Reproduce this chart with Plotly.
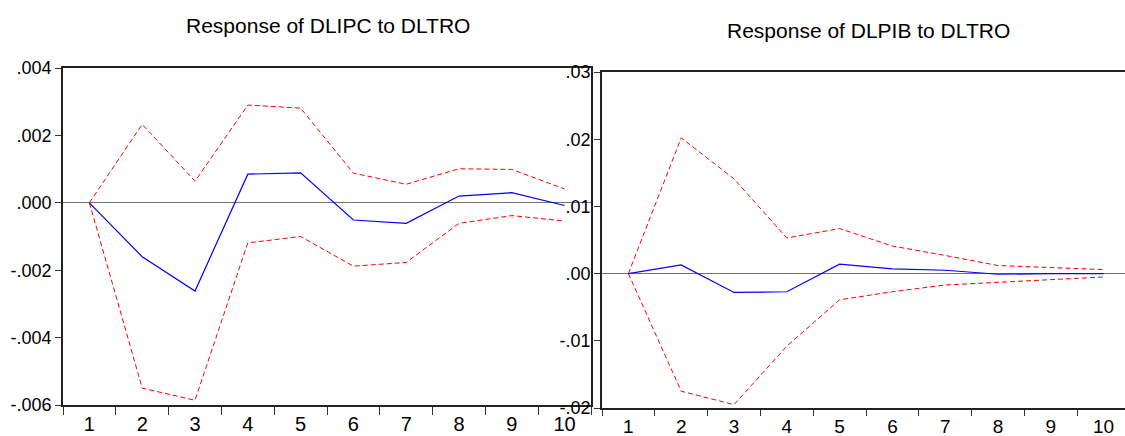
import plotly.graph_objects as go

W, H = 1125, 436

periods = ["1", "2", "3", "4", "5", "6", "7", "8", "9", "10"]

# Response of DLIPC to DLTRO
ipc_resp = [0.0, -0.00160, -0.00262, 0.00085, 0.00089, -0.00051, -0.00061, 0.00020, 0.00030, -0.00008]
ipc_upper = [0.0, 0.00233, 0.00064, 0.00290, 0.00281, 0.00088, 0.00055, 0.00101, 0.00099, 0.00041]
ipc_lower = [0.0, -0.00550, -0.00586, -0.00119, -0.00100, -0.00188, -0.00177, -0.00061, -0.00038, -0.00054]

# Response of DLPIB to DLTRO
pib_resp = [0.0, 0.0013, -0.0028, -0.0027, 0.0014, 0.0007, 0.0005, -0.0001, 0.0, 0.0]
pib_upper = [0.0, 0.0202, 0.0141, 0.0053, 0.0067, 0.0041, 0.0027, 0.0012, 0.0009, 0.0006]
pib_lower = [0.0, -0.0175, -0.0195, -0.0108, -0.0039, -0.0027, -0.0017, -0.0013, -0.0008, -0.0005]

ipc_tickvals = [0.004, 0.002, 0.0, -0.002, -0.004, -0.006]
ipc_ticktext = [".004", ".002", ".000", "-.002", "-.004", "-.006"]
pib_tickvals = [0.03, 0.02, 0.01, 0.0, -0.01, -0.02]
pib_ticktext = [".03", ".02", ".01", ".00", "-.01", "-.02"]

titles = ["Response of DLIPC to DLTRO", "Response of DLPIB to DLTRO"]

FONT = "Liberation Sans, Arial, sans-serif"
BLUE = "#0000FF"
RED = "#FF0000"
DASH = "5px,3px"
INK = "#000000"

fig = go.Figure()

def add_panel(resp, up, lo, xa, ya):
    fig.add_trace(go.Scatter(x=periods, y=up, mode="lines", xaxis=xa, yaxis=ya,
                             line=dict(color=RED, width=1, dash=DASH), showlegend=False))
    fig.add_trace(go.Scatter(x=periods, y=lo, mode="lines", xaxis=xa, yaxis=ya,
                             line=dict(color=RED, width=1, dash=DASH), showlegend=False))
    fig.add_trace(go.Scatter(x=periods, y=resp, mode="lines", xaxis=xa, yaxis=ya,
                             line=dict(color=BLUE, width=1.2), showlegend=False))

add_panel(ipc_resp, ipc_upper, ipc_lower, "x", "y")
add_panel(pib_resp, pib_upper, pib_lower, "x2", "y2")

def px_x(p):
    return p / W

def px_y(p):
    return 1 - p / H

xcommon = dict(type="category", categoryorder="array", categoryarray=periods,
               tickson="boundaries", ticks="outside", ticklen=8, tickwidth=1.2,
               tickcolor="#333333", showline=True, linecolor="#222222", linewidth=1.6,
               mirror=True, showgrid=False, zeroline=False, ticklabelstandoff=0,
               automargin=False,
               tickfont=dict(family=FONT, size=20, color=INK))
ycommon = dict(ticks="outside", ticklen=6, tickwidth=1.2, tickcolor="#333333",
               showline=True, linecolor="#222222", linewidth=1.6, showgrid=False,
               zeroline=True, zerolinecolor="#707070", zerolinewidth=1.3,
               automargin=False,
               tickfont=dict(family=FONT, size=18, color=INK))

fig.update_layout(
    width=W, height=H,
    margin=dict(l=0, r=0, t=0, b=0),
    paper_bgcolor="white", plot_bgcolor="white",
    font=dict(family=FONT, color=INK),
    xaxis=dict(xcommon, domain=[px_x(63), px_x(591)], range=[-0.5, 9.5], anchor="y"),
    yaxis=dict(ycommon, domain=[px_y(405), px_y(68)], range=[-0.006, 0.004],
               tickvals=ipc_tickvals, ticktext=ipc_ticktext, mirror=True, anchor="x"),
    xaxis2=dict(xcommon, domain=[px_x(602), 1.0], range=[-0.5, 9.405], anchor="y2",
                ticklen=6, tickfont=dict(family=FONT, size=19, color=INK)),
    yaxis2=dict(ycommon, domain=[px_y(408), px_y(72)], range=[-0.02, 0.03],
                tickvals=pib_tickvals, ticktext=pib_ticktext, mirror=False, anchor="x2"),
    annotations=[
        dict(text=titles[0], xref="paper", yref="paper", x=px_x(328), y=px_y(25),
             xanchor="center", yanchor="middle", showarrow=False,
             font=dict(family=FONT, size=21, color=INK)),
        dict(text=titles[1], xref="paper", yref="paper", x=px_x(868), y=px_y(30),
             xanchor="center", yanchor="middle", showarrow=False,
             font=dict(family=FONT, size=21, color=INK)),
    ],
)

fig.write_html("out.html", config={"displayModeBar": False},
               post_script="document.body.style.margin='0';document.body.style.overflow='hidden';")
